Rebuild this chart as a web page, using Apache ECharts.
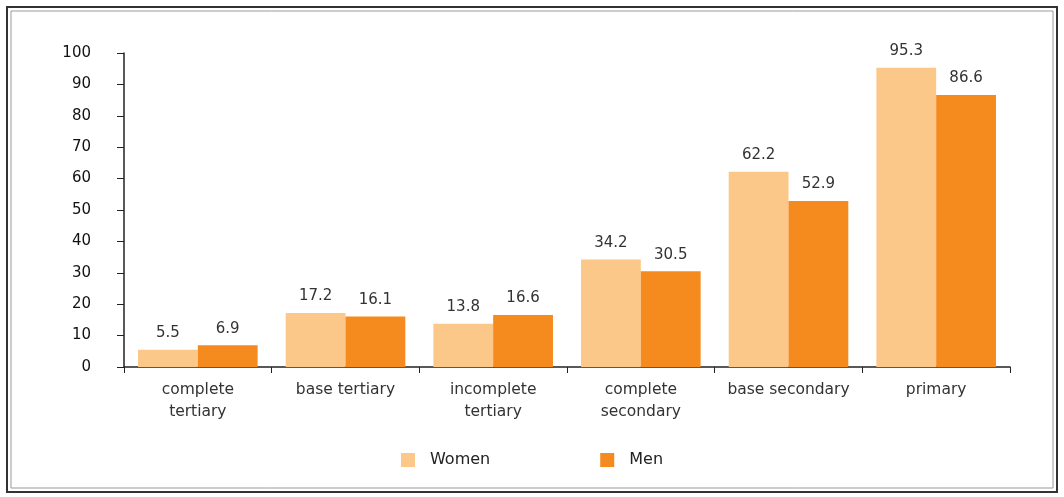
<!DOCTYPE html>
<html>
<head>
<meta charset="utf-8">
<script src="https://cdn.jsdelivr.net/npm/echarts@6/dist/echarts.min.js"></script>
<style>
  html, body { margin: 0; padding: 0; background: #fff; }
  #chart { width: 1064px; height: 497px; }
</style>
</head>
<body>
<div id="chart"></div>
<script>
var categories = ['complete\ntertiary', 'base tertiary', 'incomplete\ntertiary', 'complete\nsecondary', 'base secondary', 'primary'];
var women = [5.5, 17.2, 13.8, 34.2, 62.2, 95.3];
var men = [6.9, 16.1, 16.6, 30.5, 52.9, 86.6];
var yTicks = [0, 10, 20, 30, 40, 50, 60, 70, 80, 90, 100];

var chart = echarts.init(document.getElementById('chart'));
var labelStyle = {
    show: true,
    position: 'top',
    distance: 9,
    color: '#333',
    fontSize: 15,
    fontFamily: 'DejaVu Sans'
};
var option = {
    animation: false,
    textStyle: { fontFamily: 'DejaVu Sans' },
    graphic: [
        { type: 'rect', shape: { x: 7, y: 7, width: 1050, height: 485 },
          style: { fill: 'none', stroke: '#333', lineWidth: 2 } },
        { type: 'rect', shape: { x: 11, y: 11, width: 1042, height: 477 },
          style: { fill: 'none', stroke: '#999', lineWidth: 1 } }
    ],
    grid: { left: 124, right: 54, top: 53, bottom: 130 },
    legend: {
        bottom: 24,
        left: 'center',
        itemWidth: 14,
        itemHeight: 14,
        itemGap: 110,
        icon: 'rect',
        textStyle: { fontSize: 16, color: '#222', padding: [0, 0, 0, 10] },
        data: ['Women', 'Men']
    },
    xAxis: {
        type: 'category',
        data: categories,
        axisLine: { lineStyle: { color: '#222', width: 1.5 } },
        axisTick: { show: true, length: 6, lineStyle: { color: '#222' } },
        axisLabel: { color: '#333', fontSize: 15.5, margin: 12, lineHeight: 22, interval: 0 }
    },
    yAxis: {
        type: 'value',
        min: 0,
        max: 100,
        interval: 10,
        splitLine: { show: false },
        axisLine: { show: true, lineStyle: { color: '#222', width: 1.5 } },
        axisTick: { show: true, length: 7, lineStyle: { color: '#222' } },
        axisLabel: {
            color: '#111', fontSize: 15, margin: 33,
            formatter: function (v) { return yTicks.indexOf(v) >= 0 ? String(v) : ''; }
        }
    },
    series: [
        {
            name: 'Women',
            type: 'bar',
            data: women,
            barCategoryGap: '19%',
            barGap: '0%',
            itemStyle: { color: '#FCC889' },
            label: labelStyle
        },
        {
            name: 'Men',
            type: 'bar',
            data: men,
            barCategoryGap: '19%',
            barGap: '0%',
            itemStyle: { color: '#F58A1F' },
            label: labelStyle
        }
    ]
};
chart.setOption(option);
</script>
</body>
</html>
